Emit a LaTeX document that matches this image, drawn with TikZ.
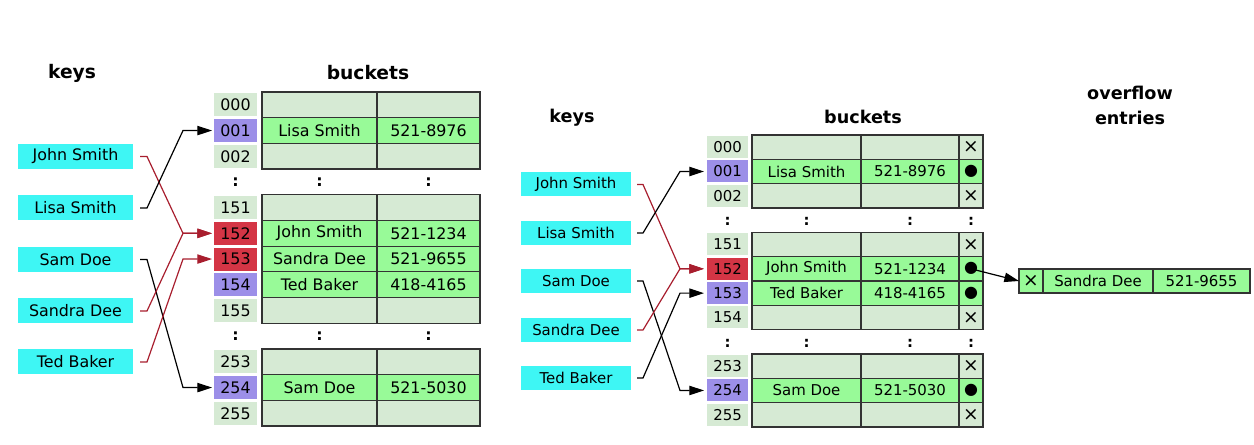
\documentclass[tikz,border=0pt]{standalone}
\usepackage{fontspec}
\setmainfont{DejaVu Sans}
\usetikzlibrary{arrows.meta}
\definecolor{keycyan}{HTML}{3EF6F4}
\definecolor{idxE}{HTML}{D6EAD4}
\definecolor{idxP}{HTML}{9C8FE8}
\definecolor{idxR}{HTML}{D43545}
\definecolor{cellE}{HTML}{D6EAD4}
\definecolor{cellU}{HTML}{98FA98}
\definecolor{bordergray}{HTML}{333333}
\definecolor{arrowred}{HTML}{A81E2E}
\newcommand\crossmk{{\fontsize{14}{14}\selectfont ×}}
\newcommand\dotmk{{\fontsize{12}{12}\selectfont ●}}
\newcommand\lrow[6]{%
  \node[lidx,fill=#3] (L#2) at (235.5,{92+25.7*(#1+0.5)}) {#2};
  \node[lname,fill=#4] (LN#2) at (319.5,{92+25.7*(#1+0.5)}) {#5};
  \node[lphone,fill=#4] (LP#2) at (428.5,{92+25.7*(#1+0.5)}) {#6};
}
\newcommand\rrow[7]{%
  \node[ridx,fill=#3] (R#2) at (727.5,{135+24.33*(#1+0.5)}) {#2};
  \node[rname,fill=#4] (RN#2) at (806.5,{135+24.33*(#1+0.5)}) {#5};
  \node[rphone,fill=#4] (RP#2) at (910,{135+24.33*(#1+0.5)}) {#6};
  \node[rptr,fill=#4] (RX#2) at (971,{135+24.33*(#1+0.5)}) {#7};
}
\begin{document}
\begin{tikzpicture}[x=0.75pt,y=-0.75pt,
  lfont/.style={font=\fontsize{11.9}{13}\selectfont},
  rfont/.style={font=\fontsize{11.2}{13}\selectfont},
  ltitle/.style={font=\fontsize{14}{16}\selectfont\bfseries},
  rtitle/.style={font=\fontsize{13.2}{18.5}\selectfont\bfseries,align=center},
  lkey/.style={lfont,fill=keycyan,inner sep=0,outer sep=0,minimum width=86.25pt,minimum height=18.75pt},
  rkey/.style={rfont,fill=keycyan,inner sep=0,outer sep=0,minimum width=82.5pt,minimum height=18pt},
  lidx/.style={lfont,inner sep=0,outer sep=0,minimum width=32.25pt,minimum height=17.25pt},
  ridx/.style={rfont,inner sep=0,outer sep=0,minimum width=30.75pt,minimum height=16.5pt},
  cell/.style={draw=bordergray,line width=0.9pt,inner sep=0,outer sep=0},
  lname/.style={cell,lfont,minimum width=86.25pt,minimum height=19.275pt},
  lphone/.style={cell,lfont,minimum width=77.25pt,minimum height=19.275pt},
  rname/.style={cell,rfont,minimum width=81.75pt,minimum height=18.25pt},
  rphone/.style={cell,rfont,minimum width=73.5pt,minimum height=18.25pt},
  rptr/.style={cell,rfont,minimum width=18pt,minimum height=18.25pt},
  ovx/.style={cell,rfont,fill=cellU,minimum width=18pt,minimum height=18pt},
  ovname/.style={cell,rfont,fill=cellU,minimum width=82.5pt,minimum height=18pt},
  ovphone/.style={cell,rfont,fill=cellU,minimum width=72.75pt,minimum height=18pt},
  dotsl/.style={font=\fontsize{11.9}{13}\selectfont\bfseries},
  dotsr/.style={font=\fontsize{11.2}{13}\selectfont\bfseries},
  redarrow/.style={draw=arrowred,line width=0.9pt,-{Triangle[length=11pt,width=7pt]}},
  blackarrow/.style={draw=black,line width=0.9pt,-{Triangle[length=11pt,width=7pt]}}
]
\useasboundingbox (0,0) rectangle (1254,445);

% ---------- left diagram ----------
\node[ltitle] (lkeys) at (72,73) {keys};
\node[ltitle] (lbuckets) at (368,73) {buckets};

\node[lkey] (lk1) at (75.5,156.5) {John Smith};
\node[lkey] (lk2) at (75.5,208) {Lisa Smith};
\node[lkey] (lk3) at (75.5,259.5) {Sam Doe};
\node[lkey] (lk4) at (75.5,311) {Sandra Dee};
\node[lkey] (lk5) at (75.5,362) {Ted Baker};

\lrow{0}{000}{idxE}{cellE}{}{}
\lrow{1}{001}{idxP}{cellU}{Lisa Smith}{521-8976}
\lrow{2}{002}{idxE}{cellE}{}{}
\lrow{4}{151}{idxE}{cellE}{}{}
\lrow{5}{152}{idxR}{cellU}{John Smith}{521-1234}
\lrow{6}{153}{idxR}{cellU}{Sandra Dee}{521-9655}
\lrow{7}{154}{idxP}{cellU}{Ted Baker}{418-4165}
\lrow{8}{155}{idxE}{cellE}{}{}
\lrow{10}{253}{idxE}{cellE}{}{}
\lrow{11}{254}{idxP}{cellU}{Sam Doe}{521-5030}
\lrow{12}{255}{idxE}{cellE}{}{}

\foreach \yy/\nn in {182/a,336/b}{
  \node[dotsl] (ld1\nn) at (235.5,\yy) {:};
  \node[dotsl] (ld2\nn) at (319.5,\yy) {:};
  \node[dotsl] (ld3\nn) at (428.5,\yy) {:};
}

\draw[redarrow] ([xshift=5.25pt]lk1.east) -- ++(5.25pt,0) -- ([xshift=-23.25pt]L152.west) -- ([xshift=-1.5pt]L152.west);
\draw[blackarrow] ([xshift=5.25pt]lk2.east) -- ++(5.25pt,0) -- ([xshift=-23.25pt]L001.west) -- ([xshift=-1.5pt]L001.west);
\draw[blackarrow] ([xshift=5.25pt]lk3.east) -- ++(5.25pt,0) -- ([xshift=-23.25pt]L254.west) -- ([xshift=-1.5pt]L254.west);
\draw[redarrow] ([xshift=5.25pt]lk4.east) -- ++(5.25pt,0) -- ([xshift=-23.25pt]L152.west) -- ([xshift=-1.5pt]L152.west);
\draw[redarrow] ([xshift=5.25pt]lk5.east) -- ++(5.25pt,0) -- ([xshift=-23.25pt]L153.west) -- ([xshift=-1.5pt]L153.west);

% ---------- right diagram ----------
\node[rtitle] (rkeys) at (572,118) {keys};
\node[rtitle] (rbuckets) at (863,117) {buckets};
\node[rtitle] (roverflow) at (1130,105.5) {overflow\\entries};

\node[rkey] (rk1) at (576,184.5) {John Smith};
\node[rkey] (rk2) at (576,233) {Lisa Smith};
\node[rkey] (rk3) at (576,281) {Sam Doe};
\node[rkey] (rk4) at (576,330) {Sandra Dee};
\node[rkey] (rk5) at (576,378) {Ted Baker};

\rrow{0}{000}{idxE}{cellE}{}{}{\crossmk}
\rrow{1}{001}{idxP}{cellU}{Lisa Smith}{521-8976}{\dotmk}
\rrow{2}{002}{idxE}{cellE}{}{}{\crossmk}
\rrow{4}{151}{idxE}{cellE}{}{}{\crossmk}
\rrow{5}{152}{idxR}{cellU}{John Smith}{521-1234}{\dotmk}
\rrow{6}{153}{idxP}{cellU}{Ted Baker}{418-4165}{\dotmk}
\rrow{7}{154}{idxE}{cellE}{}{}{\crossmk}
\rrow{9}{253}{idxE}{cellE}{}{}{\crossmk}
\rrow{10}{254}{idxP}{cellU}{Sam Doe}{521-5030}{\dotmk}
\rrow{11}{255}{idxE}{cellE}{}{}{\crossmk}

\foreach \yy/\nn in {221/a,343/b}{
  \node[dotsr] (rd1\nn) at (727.5,\yy) {:};
  \node[dotsr] (rd2\nn) at (806.5,\yy) {:};
  \node[dotsr] (rd3\nn) at (910,\yy) {:};
  \node[dotsr] (rd4\nn) at (971,\yy) {:};
}

\node[ovx] (ov1) at (1031,281) {\crossmk};
\node[ovname] (ov2) at (1098,281) {Sandra Dee};
\node[ovphone] (ov3) at (1201.5,281) {521-9655};

\draw[blackarrow] (RX152.center) -- (ov1.west);

\draw[redarrow] ([xshift=4.5pt]rk1.east) -- ++(4.5pt,0) -- ([xshift=-20.25pt]R152.west) -- ([xshift=-2.25pt]R152.west);
\draw[blackarrow] ([xshift=4.5pt]rk2.east) -- ++(4.5pt,0) -- ([xshift=-20.25pt]R001.west) -- ([xshift=-2.25pt]R001.west);
\draw[blackarrow] ([xshift=4.5pt]rk3.east) -- ++(4.5pt,0) -- ([xshift=-20.25pt]R254.west) -- ([xshift=-2.25pt]R254.west);
\draw[redarrow] ([xshift=4.5pt]rk4.east) -- ++(4.5pt,0) -- ([xshift=-20.25pt]R152.west) -- ([xshift=-2.25pt]R152.west);
\draw[blackarrow] ([xshift=4.5pt]rk5.east) -- ++(4.5pt,0) -- ([xshift=-20.25pt]R153.west) -- ([xshift=-2.25pt]R153.west);
\end{tikzpicture}
\end{document}
